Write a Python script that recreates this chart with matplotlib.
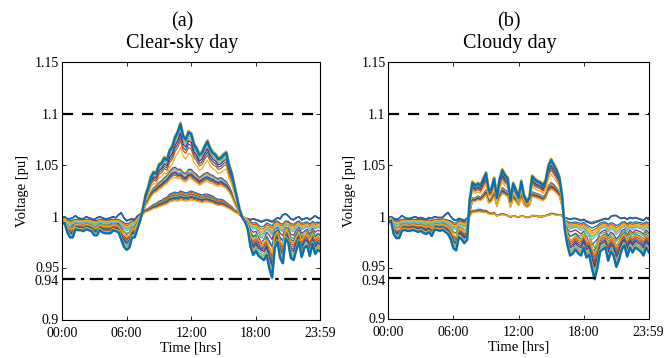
import matplotlib
matplotlib.use('Agg')
import matplotlib.pyplot as plt
import matplotlib.transforms as mtransforms
import numpy as np

plt.rcParams['font.family'] = ['Liberation Serif', 'DejaVu Serif']

# quarter-hour time axis [hrs]
hours = np.arange(0, 24.01, 0.25)

# ---------------- clear-sky day ----------------
# daytime voltage rise of three bus groups (pu), 06:45 - 17:00
clear_top = [1.0]*27 + [
    1.000, 1.004, 1.008, 1.012, 1.020, 1.028, 1.038, 1.043, 1.042, 1.050, 1.052, 1.057, 1.055, 1.064,
    1.068, 1.077, 1.082, 1.090, 1.078, 1.075, 1.082, 1.080, 1.070, 1.066, 1.060, 1.062, 1.068, 1.073,
    1.066, 1.062, 1.060, 1.056, 1.057, 1.060, 1.062, 1.050, 1.042, 1.030, 1.018, 1.007, 1.002, 1.000] + [1.0]*28
clear_mid = [1.0]*27 + [
    1.000, 1.003, 1.005, 1.008, 1.013, 1.018, 1.024, 1.028, 1.030, 1.033, 1.035, 1.038, 1.040, 1.044,
    1.047, 1.048, 1.046, 1.046, 1.043, 1.042, 1.046, 1.046, 1.043, 1.041, 1.038, 1.040, 1.042, 1.043,
    1.041, 1.040, 1.038, 1.037, 1.038, 1.036, 1.034, 1.030, 1.024, 1.016, 1.009, 1.003, 1.001, 1.000] + [1.0]*28
clear_low = [1.0]*27 + [
    1.000, 1.002, 1.003, 1.005, 1.007, 1.008, 1.010, 1.012, 1.013, 1.015, 1.016, 1.018, 1.019, 1.022,
    1.023, 1.024, 1.023, 1.025, 1.024, 1.023, 1.024, 1.025, 1.024, 1.023, 1.022, 1.021, 1.022, 1.022,
    1.021, 1.020, 1.018, 1.017, 1.017, 1.016, 1.014, 1.012, 1.010, 1.007, 1.005, 1.003, 1.001, 1.000] + [1.0]*28
# night-time profiles: 00:00 - 07:45, day, 16:30 - 24:00
clear_night_deep = [
    0.993, 0.994, 0.985, 0.980, 0.980, 0.988, 0.987, 0.987, 0.986, 0.988, 0.987, 0.986, 0.982, 0.982,
    0.987, 0.985, 0.984, 0.984, 0.984, 0.987, 0.986, 0.985, 0.978, 0.971, 0.968, 0.970, 0.980, 0.980,
    0.984, 0.988, 0.995, 1.000] + [1.0]*34 + [
    0.999, 0.997, 0.995, 0.988, 0.971, 0.963, 0.967, 0.962, 0.960, 0.958, 0.963, 0.950, 0.941, 0.970,
    0.976, 0.960, 0.955, 0.979, 0.975, 0.960, 0.958, 0.968, 0.976, 0.961, 0.970, 0.972, 0.962, 0.974,
    0.964, 0.968, 0.966]
clear_night_mid = [
    0.996, 0.996, 0.990, 0.990, 0.992, 0.994, 0.993, 0.993, 0.992, 0.994, 0.993, 0.992, 0.990, 0.991,
    0.994, 0.993, 0.992, 0.992, 0.993, 0.994, 0.993, 0.994, 0.990, 0.986, 0.983, 0.985, 0.990, 0.991,
    0.993, 0.995, 0.998, 1.000] + [1.0]*34 + [
    1.000, 0.999, 0.998, 0.995, 0.988, 0.985, 0.986, 0.980, 0.975, 0.978, 0.985, 0.982, 0.978, 0.988,
    0.990, 0.984, 0.982, 0.990, 0.989, 0.983, 0.982, 0.987, 0.990, 0.984, 0.986, 0.988, 0.983, 0.989,
    0.985, 0.987, 0.986]
clear_night_upper = [
    0.999, 1.000, 0.998, 0.998, 0.999, 1.001, 0.999, 0.998, 0.998, 1.000, 0.999, 0.998, 0.997, 0.999,
    1.000, 0.999, 0.998, 0.998, 0.999, 1.000, 0.999, 1.002, 1.004, 0.999, 0.996, 0.997, 0.998, 0.997,
    0.999, 1.000, 1.000, 1.000] + [1.0]*34 + [
    1.000, 0.999, 0.998, 0.998, 0.997, 0.998, 0.997, 0.996, 0.995, 0.996, 0.997, 0.996, 0.995, 0.997,
    0.999, 0.998, 1.002, 1.003, 1.001, 0.998, 0.997, 0.999, 1.000, 0.997, 0.998, 0.999, 0.997, 0.999,
    1.001, 0.999, 0.998]

# ---------------- cloudy day ----------------
# daytime, 07:30 - 16:30
cloudy_top = [1.0]*30 + [
    1.026, 1.033, 1.030, 1.032, 1.030, 1.036, 1.042, 1.025, 1.027, 1.037, 1.018, 1.036, 1.045, 1.040,
    1.037, 1.015, 1.032, 1.026, 1.018, 1.034, 1.020, 1.015, 1.018, 1.039, 1.036, 1.034, 1.033, 1.030,
    1.035, 1.049, 1.055, 1.050, 1.045, 1.038, 1.020, 1.003, 1.000] + [1.0]*30
cloudy_mid = [1.0]*30 + [
    1.012, 1.018, 1.018, 1.020, 1.019, 1.022, 1.026, 1.016, 1.018, 1.024, 1.012, 1.022, 1.028, 1.026,
    1.024, 1.011, 1.021, 1.018, 1.013, 1.022, 1.014, 1.011, 1.013, 1.024, 1.023, 1.022, 1.021, 1.019,
    1.022, 1.030, 1.033, 1.031, 1.028, 1.024, 1.012, 1.002, 1.000] + [1.0]*30
cloudy_low = [1.0]*30 + [
    1.004, 1.006, 1.006, 1.007, 1.007, 1.006, 1.006, 1.004, 1.003, 1.004, 1.001, 1.002, 1.003, 1.002,
    1.001, 0.999, 1.001, 1.000, 0.999, 1.001, 1.000, 0.999, 0.999, 1.001, 1.001, 1.000, 1.000, 1.000,
    1.001, 1.002, 1.003, 1.003, 1.002, 1.002, 1.001, 1.000, 1.000] + [1.0]*30
# night-time: 00:00 - 07:30, day, 16:15 - 24:00
cloudy_night_deep = [
    0.994, 0.996, 0.983, 0.979, 0.979, 0.986, 0.987, 0.986, 0.986, 0.987, 0.986, 0.985, 0.986, 0.984,
    0.983, 0.985, 0.981, 0.987, 0.987, 0.986, 0.987, 0.985, 0.983, 0.978, 0.969, 0.967, 0.980, 0.978,
    0.974, 0.977, 0.990] + [1.0]*34 + [
    0.985, 0.972, 0.962, 0.964, 0.968, 0.964, 0.962, 0.970, 0.960, 0.963, 0.950, 0.939, 0.950, 0.966,
    0.968, 0.970, 0.957, 0.966, 0.962, 0.951, 0.958, 0.968, 0.972, 0.961, 0.970, 0.965, 0.970, 0.968,
    0.966, 0.962, 0.970, 0.965]
cloudy_night_mid = [
    0.997, 0.997, 0.991, 0.989, 0.990, 0.993, 0.993, 0.993, 0.992, 0.993, 0.993, 0.992, 0.993, 0.992,
    0.991, 0.992, 0.990, 0.993, 0.993, 0.993, 0.994, 0.993, 0.991, 0.989, 0.985, 0.984, 0.990, 0.989,
    0.987, 0.988, 0.995] + [1.0]*34 + [
    0.993, 0.988, 0.985, 0.986, 0.987, 0.985, 0.983, 0.986, 0.980, 0.976, 0.972, 0.975, 0.978, 0.984,
    0.986, 0.987, 0.981, 0.985, 0.983, 0.978, 0.981, 0.986, 0.988, 0.982, 0.987, 0.984, 0.987, 0.986,
    0.985, 0.983, 0.987, 0.984]
cloudy_night_upper = [
    0.999, 1.000, 0.998, 0.997, 0.998, 1.001, 0.999, 0.998, 0.998, 0.999, 1.000, 0.998, 0.999, 0.998,
    0.997, 0.999, 0.998, 1.000, 0.999, 0.999, 0.999, 1.002, 1.004, 1.000, 0.997, 0.996, 0.998, 0.997,
    0.996, 0.998, 1.000] + [1.0]*34 + [
    0.999, 0.998, 0.997, 0.998, 0.998, 0.997, 0.996, 0.997, 0.995, 0.994, 0.993, 0.994, 0.995, 0.996,
    0.997, 0.998, 0.997, 1.000, 1.001, 1.001, 0.999, 0.998, 0.999, 0.997, 0.999, 0.998, 0.999, 0.998,
    0.997, 0.996, 0.999, 0.997]

# ---------------- buses ----------------
# group of daytime profile, share of that rise, night profile, share of that drop
bus_group = ['low']*10 + ['mid']*7 + ['top']*7
bus_day_share = [1.0, 0.95, 0.9, 0.88, 0.85, 0.8, 0.78, 0.75, 0.7, 0.65,
                 1.0, 0.97, 0.93, 0.9, 0.87, 0.84, 0.8,
                 0.99, 0.96, 0.93, 0.9, 0.86, 0.82, 0.75]
bus_night = ['mid', 'upper', 'mid', 'upper', 'mid', 'upper', 'upper', 'upper', 'mid', 'deep',
             'mid', 'deep', 'mid', 'deep', 'mid', 'deep', 'mid',
             'deep', 'deep', 'deep', 'deep', 'deep', 'deep', 'deep']
bus_night_share = [0.4, 0.8, 0.6, 1.0, 0.7, 0.9, 1.0, 1.0, 0.5, 0.3,
                   1.0, 0.5, 0.8, 0.6, 1.3, 0.7, 0.6,
                   0.95, 0.9, 0.85, 0.8, 0.75, 0.65, 0.6]

matlab_colors = ['#0072BD', '#D95319', '#EDB120', '#7E2F8E', '#77AC30', '#4DBEEE', '#A2142F']

panels = [
    ('(a)\nClear-sky day', {'top': clear_top, 'mid': clear_mid, 'low': clear_low},
     {'deep': clear_night_deep, 'mid': clear_night_mid, 'upper': clear_night_upper}),
    ('(b)\nCloudy day', {'top': cloudy_top, 'mid': cloudy_mid, 'low': cloudy_low},
     {'deep': cloudy_night_deep, 'mid': cloudy_night_mid, 'upper': cloudy_night_upper}),
]

fig = plt.figure(figsize=(6.66, 3.58), dpi=100)
axes = [fig.add_axes([0.093, 0.106, 0.388, 0.721]),
        fig.add_axes([0.583, 0.108, 0.391, 0.718])]

for ax, (title, day, night) in zip(axes, panels):
    for k in range(len(bus_group)):
        v = 1 + bus_day_share[k] * (np.array(day[bus_group[k]]) - 1) \
              + bus_night_share[k] * (np.array(night[bus_night[k]]) - 1)
        ax.plot(hours, v, color=matlab_colors[k % 7], lw=0.9)
    # most exposed bus, drawn thick
    v_ext = np.array(day['top']) + np.array(night['deep']) - 1
    ax.plot(hours, v_ext + 0.001, color='#EDB120', lw=2.0)
    ax.plot(hours, v_ext, color='#0072BD', lw=1.7)

    ax.axhline(1.1, color='black', ls=(0, (5, 4)), lw=1.6)
    ax.axhline(0.94, color='black', ls=(0, (6, 2.5, 1.5, 2.5)), lw=1.6)

    ax.set_xlim(0, 23.98)
    ax.set_ylim(0.9, 1.15)
    ax.set_xticks([0, 6, 12, 18, 23.98])
    ax.set_xticklabels(['00:00', '06:00', '12:00', '18:00', '23:59'])
    ax.set_yticks([0.9, 0.94, 0.95, 1.0, 1.05, 1.1, 1.15])
    ax.set_yticklabels(['0.9', '0.94', '0.95', '1', '1.05', '1.1', '1.15'])
    ax.tick_params(direction='in', top=True, right=True, labelsize=10, length=3, width=0.6)
    ax.tick_params(axis='x', pad=5)
    ax.tick_params(axis='y', pad=2)
    # keep the two close tick labels just apart
    shifts = {'0.94': -1.2, '0.95': 1.2, '0.9': 1}
    for lab in ax.get_yticklabels():
        dy = shifts.get(lab.get_text(), 0)
        if dy:
            lab.set_transform(lab.get_transform() +
                              mtransforms.ScaledTranslation(0, dy / 72, fig.dpi_scale_trans))
    for s in ax.spines.values():
        s.set_linewidth(0.8)
    ax.set_xlabel('Time [hrs]', fontsize=10.5, labelpad=1)
    ax.set_ylabel('Voltage [pu]', fontsize=10.5, labelpad=4)
    ax.set_title(title, fontsize=14.5, linespacing=1.2, pad=10, x=0.465)

fig.savefig('out.png', dpi=100)
